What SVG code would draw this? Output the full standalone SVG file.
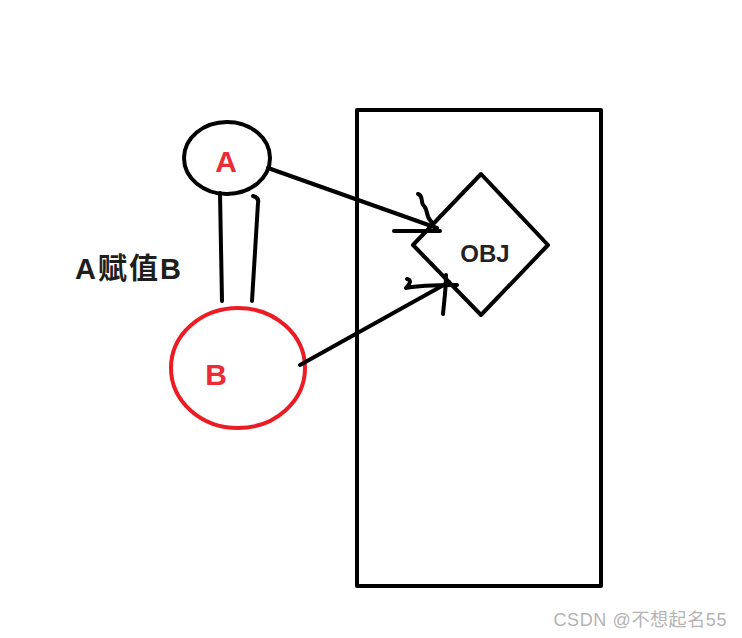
<svg xmlns="http://www.w3.org/2000/svg" width="742" height="638" viewBox="0 0 742 638">
<style>
.k{fill:none;stroke:#000;stroke-width:4;stroke-linecap:round;stroke-linejoin:round}
.r{fill:none;stroke:#ec1c24;stroke-width:4}
.lbl{font-family:"Liberation Sans","Noto Sans CJK SC",sans-serif;font-weight:bold}
</style>
<rect width="742" height="638" fill="#fff"/>
<g id="box"><rect class="k" x="357" y="110" width="244" height="476" stroke-linecap="butt" stroke-linejoin="miter"/></g>
<g id="nodeA">
<ellipse class="k" cx="227" cy="158" rx="43" ry="36"/>
<text class="lbl" x="226" y="172" font-size="30" fill="#ec2b36" text-anchor="middle">A</text>
</g>
<g id="nodeB">
<ellipse class="r" cx="238" cy="368" rx="67" ry="60"/>
<text class="lbl" x="216" y="385" font-size="30" fill="#ec2b36" text-anchor="middle">B</text>
</g>
<g id="obj">
<polygon class="k" points="481,174 548,245 481,315 413,245" stroke-linejoin="miter"/>
<text class="lbl" x="485" y="262" font-size="24" fill="#222" text-anchor="middle">OBJ</text>
</g>
<g id="label"><text class="lbl" x="75" y="279" font-size="29" letter-spacing="2" fill="#1e1e1e">A赋值B</text></g>
<g id="connectors">
<path class="k" d="M268,168 L437,228"/>
<path class="k" d="M394,231 L440,231"/>
<path class="k" d="M418,194 C424,196 420,203 424,206 C428,210 426,216 430,220 L433,224"/>
<path class="k" d="M300,365 L449,282"/>
<path class="k" d="M407,279 C412,280 410,284 406,288 C420,285 440,285 457,285"/>
<path class="k" d="M446,275 C446,290 444,302 443,314"/>
<path class="k" d="M220,193 L222,301"/>
<path class="k" d="M253,196 C257,197 259,199 258,203 L252,301"/>
</g>
<text x="727" y="626" font-family="Liberation Sans,'Noto Sans CJK SC',sans-serif" font-size="18" letter-spacing="0.6" fill="#b4b4b4" text-anchor="end">CSDN @不想起名55</text>
</svg>
